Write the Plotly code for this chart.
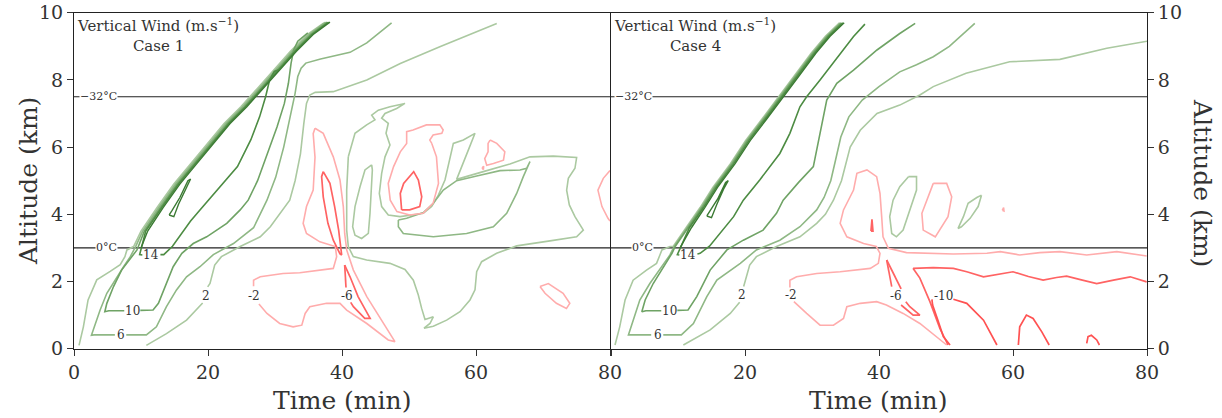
import plotly.graph_objects as go

# ---------------- DATA (x in minutes, y in km) ----------------
ISO_LEVELS = [7.5, 3.0]
ISO_LABELS = ["\u221232\u00b0C", "0\u00b0C"]
ISO_LABEL_X = {"left": [3.6, 4.8], "right": [3.4, 4.7]}

X_TICKS = [0, 20, 40, 60, 80]
Y_TICKS = [0, 2, 4, 6, 8, 10]
PANEL_TITLES = ["Case 1", "Case 4"]

# ---- Case 1 (left panel) ----
c1_pos2_a = [(37.3,9.7),(34.8,9.35),(32.3,8.85),(29.9,8.3),(27.4,7.75),(24.9,7.2),(22.4,6.7),(19.9,6.1),(17.4,5.5),(14.9,4.9),(12.4,4.2),(10.0,3.5),(8.9,3.04),(7.9,2.94),(7.6,2.74),(6.9,2.5),(5.4,2.3),(3.4,2.05),(2.1,1.45),(1.4,0.65),(0.75,0.1)]
c1_pos2_b = [(10.8,0.1),(13.8,0.45),(16.8,0.85),(18.8,1.25),(19.2,1.36),None,(19.95,1.84),(20.3,1.94),(21.0,2.49),(22.0,2.74),(24.8,3.04),(27.8,3.33),(29.3,3.63),(30.7,4.03),(32.2,4.42),(33.0,5.0),(33.8,5.8),(34.3,6.7),(34.7,7.3),(35.2,7.55),(36.0,7.63),(38.7,7.65),(43.7,8.0),(48.7,8.49),(54.6,8.99),(63.1,9.68)]
c1_pos6 = [(37.55,9.72),(35.05,9.35),(32.55,8.85),(30.15,8.3),(27.65,7.75),(25.15,7.2),(22.65,6.7),(20.15,6.1),(17.65,5.5),(15.15,4.9),(12.65,4.2),(10.25,3.5),(9.2,3.04),(8.4,2.74),(7.4,2.44),(6.1,2.04),(4.9,1.65),(3.9,1.15),(3.1,0.65),(2.6,0.4),(3.0,0.41),(6.1,0.41),None,(7.8,0.41),(10.8,0.41),(12.3,0.65),(13.8,1.25),(15.3,1.75),(16.8,2.14),(18.8,2.44),(20.8,2.8),(23.8,3.13),(26.8,3.6),(28.8,4.42),(30.1,5.1),(31.3,6.0),(32.3,6.9),(33.0,7.6),(33.4,8.1),(33.9,8.35),(34.6,8.5),(36.8,8.62),(41.2,8.82),(43.7,9.1),(47.4,9.7)]
c1_pos10 = [(37.8,9.72),(35.3,9.35),(32.8,8.85),(30.4,8.3),(27.9,7.75),(25.4,7.2),(22.9,6.7),(20.4,6.1),(17.9,5.5),(15.4,4.9),(12.9,4.2),(10.5,3.5),(9.4,2.94),(8.4,2.69),(7.1,2.34),(5.9,1.85),(4.9,1.35),(4.6,1.1),(5.2,1.13),(7.5,1.13),None,(9.9,1.14),(11.8,1.15),(12.6,1.35),(13.8,1.94),(14.8,2.44),(16.1,2.84),(17.8,3.13),(19.8,3.33),(22.8,3.73),(24.8,4.13),(26.0,4.42),(27.4,5.0),(28.9,5.8),(30.3,6.6),(31.4,7.3),(32.0,7.9),(32.4,8.5),(32.8,8.9),(33.4,9.15),(34.9,9.4)]
c1_pos14 = [(38.0,9.72),(35.5,9.35),(33.0,8.85),(30.6,8.3),(28.1,7.75),(25.6,7.2),(23.1,6.7),(20.6,6.1),(18.1,5.5),(15.6,4.9),(13.1,4.2),(10.7,3.5),(9.8,2.8),(10.2,2.79),None,(12.9,2.8),(13.4,2.8),(14.7,3.05),(16.1,3.43),(17.4,3.8),(18.8,4.13),(21.4,4.73),(24.4,5.42),(26.4,6.22),(27.7,6.9),(28.6,7.5),(29.2,8.0),(29.9,8.25),(30.6,8.3)]
c1_pos18 = [(10.0,3.0),(11.0,3.5),(13.3,4.2),(15.8,4.9),(18.3,5.5),(20.8,6.1),(23.3,6.7),(25.8,7.2),(28.3,7.75),(30.8,8.3),(33.2,8.85),(35.7,9.35),(38.2,9.72)]
c1_pos18_loop = [(14.2,3.98),(14.9,3.93),(15.6,4.3),(16.5,4.7),(17.4,5.05),(17.0,5.0),(15.8,4.5),(14.6,4.1),(14.2,3.98)]
c1_mid2_loop = [(44.43,5.47),(43.43,5.32),(42.69,4.82),(41.94,4.23),(41.59,3.63),(41.94,3.38),(42.93,3.28),(43.93,3.43),(44.18,4.03),(44.33,4.72),(44.53,5.32),(44.43,5.47)]
c1_mid2_big = [(40.94,5.71),(41.94,6.41),(43.68,6.66),(44.92,6.81),(44.43,6.95),(45.42,7.10),(47.16,7.20),(49.40,7.30),(48.16,7.15),(46.42,7.00),(45.92,6.86),(46.91,6.71),(46.57,6.41),(47.16,6.06),(46.42,5.71),(45.92,5.22),(45.57,4.62),(45.92,4.23),(46.91,3.98),(48.66,3.93),(50.15,3.97),(52.14,4.03),(53.38,4.23),(54.38,4.57),(55.37,5.02),(56.12,5.71),(56.62,6.11),(58.11,6.21),(59.85,6.41),(58.85,5.91),(57.86,5.42),(57.11,5.04),(61.09,5.27),(65.07,5.50),(68.06,5.71),(71.54,5.73),(75.02,5.69),(74.77,5.37),(73.78,5.07),(73.53,4.72),(73.93,4.28),(74.77,3.93),(76.02,3.53),(75.02,3.33),(71.04,3.21),(66.07,3.06),(63.08,2.84),(60.84,2.59),(60.10,2.29),(59.85,1.75),(59.10,1.45),(57.61,1.10),(55.62,0.85),(53.63,0.67),(52.24,0.61),(53.13,0.75),(53.63,0.95),(52.39,0.87),(51.89,1.20),(51.39,1.60),(50.65,2.04),(49.40,2.36),(47.16,2.54),(43.68,2.64),(41.69,2.74),(40.94,3.04),(40.70,3.53),(40.70,4.72),(40.94,5.71)]
c1_mid6_flag = [(48.41,3.83),(48.41,3.63),(49.15,3.43),(53.63,3.33),(58.60,3.43),(62.59,3.63),(64.58,4.03),(66.07,4.62),(67.06,5.12),(67.81,5.47),(68.06,5.57),(67.56,5.37),(66.57,5.32),(63.58,5.30),(60.10,5.14),(57.11,5.00),(55.12,4.72),(53.63,4.33),(52.14,4.05),(49.65,3.88),(48.41,3.83)]
c1_neg2_big = [(35.97,6.56),(35.7,6.4),(35.97,5.7),(35.7,4.72),(34.7,4.23),(34.2,3.73),(34.7,3.43),(36.7,3.18),(39.0,3.04),(39.2,2.74),(38.7,2.39),(36.7,2.34),(33.7,2.26),(31.2,2.24),(27.8,2.14),(26.8,2.04),(26.8,1.86),None,(27.6,1.33),(28.8,1.05),(30.7,0.75),(32.7,0.65),(34.0,0.7),(34.5,1.05),(35.2,1.25),(37.7,1.35),(39.7,1.35),(40.7,1.15),(43.7,0.75),(46.9,0.26),(47.9,0.21),(46.2,0.75),(43.7,1.55),(41.7,2.34),(40.7,2.94),(40.4,3.43),(40.2,4.22),(39.7,5.02),(38.7,5.71),(37.2,6.41),(35.97,6.56)]
c1_neg2_b = [(53.4,6.11),(54.1,5.71),(54.4,4.92),(53.6,4.33),(52.1,4.03),(50.1,3.98),(48.2,4.08),(47.2,4.42),(46.9,4.92),(47.7,5.42),(48.7,5.86),(49.65,6.11),(49.65,6.46),(50.6,6.51),(52.6,6.66),(54.6,6.66),(55.1,6.51),(54.9,6.41),(53.6,6.36),(53.1,6.21),(53.4,6.11)]
c1_neg2_c = [(62.1,6.21),(63.1,6.11),(64.3,5.86),(64.1,5.61),(62.6,5.51),(61.6,5.46),(61.3,5.66),(61.8,5.86),(61.8,6.11),(62.1,6.21)]
c1_neg2_dot = [(60.9,5.38),(61.15,5.43),(61.1,5.33),(60.9,5.38)]
c1_neg2_d = [(80,5.3),(79.0,5.07),(78.2,4.72),(78.8,4.23),(79.7,3.88),(80,3.8)]
c1_neg2_e = [(69.55,1.85),(70.8,1.94),(73.0,1.65),(74.0,1.35),(73.5,1.2),(72.0,1.35),(70.3,1.65),(69.55,1.85)]
c1_neg6_a = [(37.2,5.27),(38.2,4.92),(38.9,4.23),(39.5,3.53),(39.95,2.79),(39.7,2.82),(38.7,3.23),(37.9,3.73),(37.2,4.52),(36.96,5.12),(37.2,5.27)]
c1_neg6_b = [(40.4,2.49),(41.2,2.14),(42.4,1.55),(43.7,1.1),(44.2,0.9),(43.4,0.9),(41.7,1.25),(41.3,1.38),None,(40.6,1.82),(40.35,2.44),(40.4,2.49)]
c1_neg6_c = [(48.9,4.13),(48.7,4.62),(49.2,4.92),(50.7,5.27),(51.4,5.02),(51.9,4.52),(51.6,4.23),(50.1,4.13),(48.9,4.13)]

# ---- Case 4 (right panel) ----
c4_pos2_a = [(34.1,9.7),(32.0,9.3),(29.9,8.8),(27.3,8.1),(25.1,7.5),(22.4,6.8),(20.1,6.2),(17.8,5.5),(15.2,4.8),(13.3,4.2),(11.2,3.6),(9.3,3.05),(8.8,3.04),(7.6,2.94),(7.3,2.79),(6.8,2.54),(5.3,2.34),(3.3,2.04),(2.1,1.45),(1.3,0.65),(0.6,0.11)]
c4_pos2_b = [(10.8,0.11),(14.8,0.56),(17.8,1.05),(19.0,1.35),(19.2,1.38),None,(19.8,1.85),(20.7,2.49),(21.7,2.74),(24.7,3.04),(28.2,3.33),(30.7,3.73),(32.0,4.0),(33.2,4.42),(34.4,5.0),(35.7,6.0),(37.2,6.5),(39.7,7.0),(43.1,7.25),(46.1,7.55),(48.1,7.8),(53.0,8.2),(59.5,8.54),(67.0,8.61),(74.0,8.94),(79.7,9.14),(80,9.15)]
c4_pos6 = [(34.25,9.7),(32.15,9.3),(30.05,8.8),(27.45,8.1),(25.25,7.5),(22.55,6.8),(20.25,6.2),(17.95,5.5),(15.35,4.8),(13.45,4.2),(11.35,3.6),(9.45,3.05),(8.8,2.79),(7.6,2.44),(5.8,1.94),(4.3,1.45),(3.3,0.85),(2.6,0.41),(3.0,0.41),(6.0,0.41),None,(7.8,0.41),(10.5,0.41),(12.3,0.75),(14.3,1.55),(15.8,2.04),(19.3,2.54),(21.7,2.94),(25.2,3.23),(28.2,3.63),(30.7,4.13),(31.8,4.5),(32.8,5.0),(33.5,5.6),(34.3,6.3),(35.5,6.9),(37.5,7.4),(40.0,7.8),(43.1,8.24),(45.6,8.45),(48.1,8.69),(50.5,9.0),(52.6,9.39),(54.3,9.68)]
c4_pos10 = [(34.4,9.7),(32.3,9.3),(30.2,8.8),(27.6,8.1),(25.4,7.5),(22.7,6.8),(20.4,6.2),(18.1,5.5),(15.5,4.8),(13.6,4.2),(11.5,3.6),(9.6,3.05),(9.1,2.84),(7.8,2.44),(6.3,1.94),(5.1,1.45),(4.6,1.1),(5.2,1.13),(7.5,1.13),None,(9.9,1.14),(11.5,1.15),(12.8,1.55),(14.8,2.34),(17.3,2.94),(19.75,3.23),(22.7,3.53),(24.7,4.03),(25.7,4.42),(28.0,4.95),(30.2,5.42),(31.2,6.41),(32.2,7.4),(33.7,7.9),(36.2,8.29),(39.7,8.89),(43.1,9.38),(45.4,9.68)]
c4_pos14 = [(34.6,9.7),(32.5,9.3),(30.4,8.8),(27.8,8.1),(25.6,7.5),(22.9,6.8),(20.6,6.2),(18.3,5.5),(15.7,4.8),(13.8,4.2),(11.7,3.6),(9.9,2.8),(10.2,2.79),None,(12.9,2.82),(13.3,2.84),(14.7,3.05),(16.3,3.43),(18.3,3.93),(19.75,4.42),(22.2,5.02),(25.2,5.81),(26.7,6.41),(28.2,7.2),(29.2,7.5),(31.2,8.0),(34.2,8.79),(36.2,9.29),(37.9,9.66)]
c4_pos18 = [(10.3,3.0),(12.0,3.6),(14.0,4.2),(15.9,4.8),(18.5,5.5),(20.8,6.2),(23.1,6.8),(25.8,7.5),(28.0,8.1),(30.6,8.8),(32.7,9.3),(34.8,9.7)]
c4_pos18_loop = [(14.3,3.95),(15.0,3.9),(15.8,4.3),(16.8,4.75),(17.5,5.0),(17.1,4.95),(15.9,4.45),(14.7,4.05),(14.3,3.95)]
c4_mid2_a = [(44.4,5.12),(45.6,5.12),(45.6,4.72),(44.6,4.13),(43.6,3.53),(42.6,3.33),(41.9,3.43),(41.6,3.93),(42.1,4.42),(43.1,4.82),(44.4,5.12)]
c4_mid2_b = [(55.3,4.57),(54.6,4.5),(53.3,4.33),(52.6,3.93),(51.8,3.58),(52.3,3.63),(53.6,3.88),(54.8,4.23),(55.3,4.57)]
c4_neg2_big = [(50.1,0.11),(48.6,0.36),(46.1,0.75),(43.6,1.05),(41.1,1.3),(39.65,1.4),(37.2,1.35),(35.2,1.25),(34.7,0.9),(33.2,0.7),(31.2,0.7),(29.2,1.05),(27.7,1.35),(27.3,1.4),None,(26.7,1.82),(26.7,2.04),(27.7,2.14),(30.7,2.24),(34.2,2.29),(38.7,2.39),(39.9,2.54),(40.15,2.84),(39.6,3.04),(37.7,3.13),(35.2,3.33),(34.2,3.73),(34.7,4.13),(36.2,4.72),(36.7,5.22),(38.2,5.32),(39.65,5.12),(40.15,4.62),(40.4,3.93),(40.6,3.33),(41.4,2.99),(44.1,2.86),(51.1,2.82),(56.1,2.84),(58.1,2.89),(61.0,2.79),(64.0,2.86),(67.0,2.89),(71.0,2.79),(75.5,2.89),(79.95,2.76)]
c4_neg2_b = [(48.1,4.92),(50.1,4.92),(50.85,4.52),(50.3,3.93),(48.4,3.33),(46.6,3.53),(46.4,4.03),(47.4,4.52),(48.1,4.92)]
c4_neg2_dot = [(58.4,4.12),(58.6,4.2),(58.65,4.1),(58.4,4.12)]
c4_neg6_a = [(41.15,2.64),(42.6,2.04),(43.3,1.78),None,(44.0,1.4),(44.6,1.25),(46.1,1.0),(45.1,1.0),(43.3,1.3),None,(41.9,1.85),(41.4,2.34),(41.15,2.64)]
c4_neg6_b = [(50.3,0.11),(49.1,0.6),(47.6,1.4),(46.1,2.1),(45.1,2.39),(48.1,2.41),(51.1,2.39),(53.1,2.29),(55.6,2.14),(58.0,2.22),(60.0,2.29),(62.3,2.15),(64.5,2.04),(66.5,2.12),(68.0,2.16),(70.2,2.05),(72.5,1.94),(75.0,2.04),(77.5,2.14),(79.95,1.99)]
c4_neg6_dot = [(38.8,3.5),(38.95,3.85),(39.1,3.5),(38.8,3.5)]
c4_neg10_a = [(50.6,0.11),(49.6,0.36),(48.7,0.9),(48.0,1.3),(47.9,1.47)]
c4_neg10_b = [(51.1,1.47),(53.1,1.35),(55.6,0.85),(56.6,0.5),(57.6,0.11)]
c4_neg10_c = [(60.8,0.11),(61.0,0.65),(62.0,1.0),(63.0,0.9),(64.3,0.5),(65.4,0.11)]
c4_neg10_d = [(71.0,0.16),(71.2,0.36),(71.7,0.4),(72.5,0.26),(72.9,0.11)]

# contour labels: (text, x, y)
c1_labels = [("14",11.5,2.78),("10",8.7,1.13),("6",6.95,0.41),("2",19.65,1.58),("-2",26.9,1.58),("-6",40.8,1.58)]
c4_labels = [("14",11.5,2.78),("10",8.7,1.13),("6",6.95,0.41),("2",19.6,1.6),("-2",26.9,1.6),("-6",42.6,1.58),("-10",49.6,1.58)]

# ---------------- STYLE ----------------
COL = {"g2": "#abc9a1", "g6": "#8fb885", "g10": "#6fa365", "g14": "#4d8c43", "g18": "#3b7a33",
       "r2": "#ffacac", "r6": "#ff6363", "r10": "#ff5252"}
FONT = "DejaVu Serif, Liberation Serif, serif"
TXT = "#333333"

c1_lines = [(c1_pos2_a,"g2"),(c1_pos2_b,"g2"),(c1_pos6,"g6"),(c1_pos10,"g10"),(c1_pos14,"g14"),
            (c1_pos18,"g18"),(c1_pos18_loop,"g18"),(c1_mid2_loop,"g2"),(c1_mid2_big,"g2"),(c1_mid6_flag,"g6"),
            (c1_neg2_big,"r2"),(c1_neg2_b,"r2"),(c1_neg2_c,"r2"),(c1_neg2_dot,"r2"),(c1_neg2_d,"r2"),(c1_neg2_e,"r2"),
            (c1_neg6_a,"r6"),(c1_neg6_b,"r6"),(c1_neg6_c,"r6")]
c4_lines = [(c4_pos2_a,"g2"),(c4_pos2_b,"g2"),(c4_pos6,"g6"),(c4_pos10,"g10"),(c4_pos14,"g14"),
            (c4_pos18,"g18"),(c4_pos18_loop,"g18"),(c4_mid2_a,"g2"),(c4_mid2_b,"g2"),
            (c4_neg2_big,"r2"),(c4_neg2_b,"r2"),(c4_neg2_dot,"r2"),
            (c4_neg6_a,"r6"),(c4_neg6_b,"r6"),(c4_neg6_dot,"r6"),
            (c4_neg10_a,"r10"),(c4_neg10_b,"r10"),(c4_neg10_c,"r10"),(c4_neg10_d,"r10")]


def xy(pts):
    xs, ys = [], []
    for p in pts:
        if p is None:
            xs.append(None); ys.append(None)
        else:
            xs.append(p[0]); ys.append(p[1])
    return xs, ys


fig = go.Figure()

for panel, lines, xa, ya in (("left", c1_lines, "x", "y"), ("right", c4_lines, "x2", "y2")):
    for lev in ISO_LEVELS:
        fig.add_trace(go.Scatter(x=[X_TICKS[0], X_TICKS[-1]], y=[lev, lev], mode="lines",
                                 line=dict(color="#222222", width=1.1), xaxis=xa, yaxis=ya,
                                 hoverinfo="skip", showlegend=False))
    for pts, key in lines:
        xs, ys = xy(pts)
        w = 1.7 if key in ("r6", "r10") else (1.4 if key == "g18" else 1.6)
        fig.add_trace(go.Scatter(x=xs, y=ys, mode="lines", line=dict(color=COL[key], width=w),
                                 connectgaps=False, xaxis=xa, yaxis=ya,
                                 hoverinfo="skip", showlegend=False))

annotations = []
for (xa, ya, labels, iso_x, title) in (("x", "y", c1_labels, ISO_LABEL_X["left"], PANEL_TITLES[0]),
                                        ("x2", "y2", c4_labels, ISO_LABEL_X["right"], PANEL_TITLES[1])):
    for t, x, y in labels:
        annotations.append(dict(x=x, y=y, xref=xa, yref=ya, text=t, showarrow=False,
                                xanchor="center", yanchor="middle",
                                font=dict(family=FONT, size=12, color=TXT)))
    for lab, lev, lx in zip(ISO_LABELS, ISO_LEVELS, iso_x):
        annotations.append(dict(x=lx, y=lev, xref=xa, yref=ya, text=lab, showarrow=False,
                                xanchor="center", yanchor="middle",
                                bgcolor="white", borderpad=0,
                                font=dict(family=FONT, size=11, color=TXT)))
    annotations.append(dict(x=12.6, y=9.99, xref=xa, yref=ya, xanchor="center", yanchor="top",
                            text="Vertical Wind (m.s<sup>\u22121</sup>)<br>" + title, showarrow=False,
                            align="center", font=dict(family=FONT, size=15, color=TXT)))

annotations += [
    dict(x=342/1222, y=(418-400)/418, xref="paper", yref="paper", text="Time (min)", showarrow=False,
         xanchor="center", yanchor="middle", font=dict(family=FONT, size=25, color=TXT)),
    dict(x=878/1222, y=(418-400)/418, xref="paper", yref="paper", text="Time (min)", showarrow=False,
         xanchor="center", yanchor="middle", font=dict(family=FONT, size=25, color=TXT)),
    dict(x=28/1222, y=(418-181)/418, xref="paper", yref="paper", text="Altitude (km)", showarrow=False,
         xanchor="center", yanchor="middle", textangle=-90, font=dict(family=FONT, size=25, color=TXT)),
    dict(x=1203/1222, y=(418-183)/418, xref="paper", yref="paper", text="Altitude (km)", showarrow=False,
         xanchor="center", yanchor="middle", textangle=90, font=dict(family=FONT, size=25, color=TXT)),
]

ydom = [(418-348.7)/418, (418-12.7)/418]
axis_common = dict(range=[0, 80], showgrid=False, zeroline=False, showline=True, linecolor="#222222",
                   linewidth=1, mirror=True, ticks="outside", ticklen=6, tickwidth=1, tickcolor="#333333",
                   automargin=False, tickfont=dict(family=FONT, size=19, color=TXT))
yaxis_common = dict(range=[0, 10], showgrid=False, zeroline=False, showline=True, linecolor="#222222",
                    linewidth=1, mirror=True, ticks="outside", ticklen=6, tickwidth=1, tickcolor="#333333",
                    automargin=False, tickvals=Y_TICKS, tickfont=dict(family=FONT, size=19, color=TXT),
                    domain=ydom)

fig.update_layout(
    width=1222, height=418, margin=dict(l=0, r=0, t=0, b=0, autoexpand=False),
    paper_bgcolor="white", plot_bgcolor="white",
    xaxis=dict(domain=[74/1222, 610/1222], anchor="y", tickvals=X_TICKS, **axis_common),
    xaxis2=dict(domain=[611/1222, 1147/1222], anchor="y2", tickvals=X_TICKS,
                ticktext=[""] + [str(v) for v in X_TICKS[1:]], **axis_common),
    yaxis=dict(anchor="x", **yaxis_common),
    yaxis2=dict(anchor="x2", side="right", **yaxis_common),
    annotations=annotations,
)

fig.write_html("out.html", config={"displayModeBar": False},
               post_script="document.body.style.margin='0';document.body.style.padding='0';")
